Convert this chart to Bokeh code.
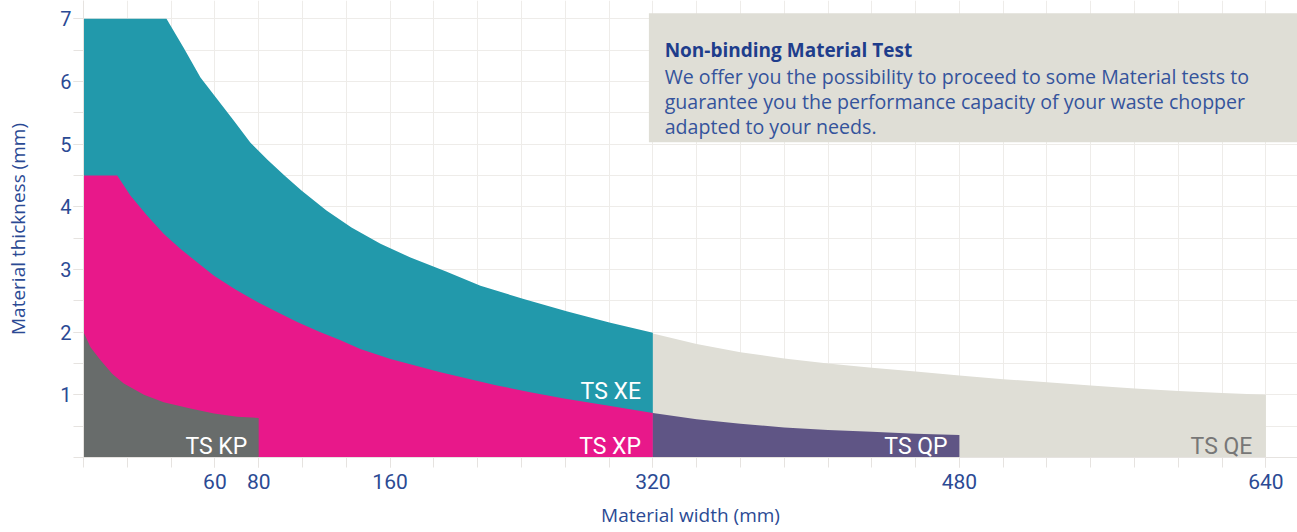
from bokeh.plotting import figure
from bokeh.models import FixedTicker, Label, BoxAnnotation
from bokeh.embed import file_html
from bokeh.resources import INLINE

# ---- data (x in chart grid units; the width axis is schematic) ----
width_tick_pos = [3, 4, 7, 13, 20, 27]
width_tick_labels = ["60", "80", "160", "320", "480", "640"]
thickness_ticks = [1, 2, 3, 4, 5, 6, 7]

xe_x = [0, 1.895, 2.283, 2.671, 3.037, 3.425, 3.813, 4.201, 4.589, 4.977, 5.548, 6.119,
        6.781, 7.466, 8.265, 9.064, 10.05, 11.05, 12.03, 13.0]
xe_y = [7.0, 7.0, 6.54, 6.06, 5.73, 5.38, 5.02, 4.75, 4.50, 4.26, 3.94, 3.67,
        3.41, 3.19, 2.97, 2.74, 2.53, 2.33, 2.15, 1.99]

xp_x = [0, 0.77, 1.07, 1.45, 1.83, 2.21, 2.6, 2.98, 3.47, 3.97, 4.42, 4.88, 5.37, 5.87, 6.32,
        7.01, 8.15, 9.44, 10.2, 10.97, 11.96, 13.0]
xp_y = [4.5, 4.5, 4.18, 3.86, 3.57, 3.33, 3.11, 2.90, 2.68, 2.48, 2.32, 2.16, 2.01, 1.87, 1.73,
        1.57, 1.36, 1.15, 1.04, 0.94, 0.83, 0.71]

kp_x = [0, 0.16, 0.39, 0.66, 0.92, 1.38, 1.83, 2.44, 2.98, 3.51, 4.0]
kp_y = [2.0, 1.76, 1.55, 1.33, 1.18, 1.00, 0.88, 0.78, 0.70, 0.65, 0.63]

qp_x = [13, 14, 15, 16, 17, 18, 19, 20]
qp_y = [0.71, 0.61, 0.54, 0.48, 0.44, 0.41, 0.38, 0.36]

qe_x = [13, 14, 15, 16, 17, 18, 19, 20, 21, 22, 23, 24, 25, 26, 27]
qe_y = [1.98, 1.81, 1.68, 1.58, 1.5, 1.43, 1.37, 1.31, 1.25, 1.2, 1.15, 1.1, 1.06, 1.03, 1.0]

series_names = ["TS KP", "TS XP", "TS XE", "TS QP", "TS QE"]

TEAL = "#2299AB"
MAGENTA = "#E8188A"
GRAY = "#686C6B"
PURPLE = "#5F5585"
BEIGE = "#DFDED6"
NAVY = "#2B4A94"
GRIDC = "#EEECE9"
FONT = "Roboto"
FONT2 = "Open Sans"

p = figure(width=1297, height=532, output_backend="svg", toolbar_location=None,
           x_range=(0, 27.72), y_range=(0, 7.29),
           min_border_left=83, min_border_bottom=75, min_border_top=0, min_border_right=0)
p.outline_line_color = None
p.background_fill_color = "white"

# areas
p.varea(x=qe_x, y1=0, y2=qe_y, fill_color=BEIGE)
p.varea(x=xe_x, y1=0, y2=xe_y, fill_color=TEAL)
p.varea(x=qp_x, y1=0, y2=qp_y, fill_color=PURPLE)
p.varea(x=xp_x, y1=0, y2=xp_y, fill_color=MAGENTA)
p.varea(x=kp_x, y1=0, y2=kp_y, fill_color=GRAY)

# series labels
lab_pos = [(3.74, 0.18), (12.73, 0.18), (12.73, 1.06), (19.73, 0.18), (26.69, 0.18)]
lab_col = ["white", "white", "white", "white", "#777777"]
for name, (lx, ly), c in zip(series_names, lab_pos, lab_col):
    p.add_layout(Label(x=lx, y=ly, text=name, text_align="right", text_baseline="middle",
                       text_font=FONT, text_font_size="23px", text_color=c))

# info box
p.add_layout(BoxAnnotation(left=12.91, right=40, bottom=5.03, top=7.086,
                           fill_color=BEIGE, fill_alpha=1.0, line_color=None))
p.add_layout(Label(x=13.27, y=6.50, text="Non-binding Material Test", text_font=FONT2,
                   text_font_size="19px", text_font_style="bold", text_color="#1E3D8C",
                   text_baseline="alphabetic"))
body = ["We offer you the possibility to proceed to some Material tests to",
        "guarantee you the performance capacity of your waste chopper",
        "adapted to your needs."]
for i, line in enumerate(body):
    p.add_layout(Label(x=13.27, y=6.08 - 0.40 * i, text=line, text_font=FONT2,
                       text_font_size="19.6px", text_color="#34539C",
                       text_baseline="alphabetic"))

# axes
p.xaxis.ticker = FixedTicker(ticks=width_tick_pos, minor_ticks=list(range(0, 28)))
p.xaxis.major_label_overrides = {t: l for t, l in zip(width_tick_pos, width_tick_labels)}
p.yaxis.ticker = FixedTicker(ticks=thickness_ticks, minor_ticks=[0.5 * i for i in range(15)])
p.xaxis.axis_label = "Material width (mm)"
p.yaxis.axis_label = "Material thickness (mm)"
for ax in (p.xaxis, p.yaxis):
    ax.axis_line_color = "#E6E3E0"
    ax.major_tick_line_color = "#E6E3E0"
    ax.minor_tick_line_color = "#E6E3E0"
    ax.major_tick_in = 0
    ax.major_tick_out = 10
    ax.minor_tick_in = 0
    ax.minor_tick_out = 10
    ax.major_label_text_font = FONT
    ax.major_label_text_color = NAVY
    ax.axis_label_text_font = FONT2
    ax.axis_label_text_color = NAVY
    ax.axis_label_text_font_style = "normal"
    ax.axis_label_text_font_size = "19px"
p.xaxis.major_label_text_font_size = "21px"
p.yaxis.major_label_text_font_size = "20px"
p.xaxis.major_label_standoff = 6
p.yaxis.major_label_standoff = 2
p.xaxis.axis_label_standoff = 10
p.yaxis.axis_label_standoff = 26

p.xgrid.ticker = FixedTicker(ticks=list(range(0, 28)))
p.ygrid.ticker = FixedTicker(ticks=[0.5 * i for i in range(15)])
p.xgrid.grid_line_color = GRIDC
p.ygrid.grid_line_color = GRIDC

open("out.html", "w").write(file_html(p, INLINE))
